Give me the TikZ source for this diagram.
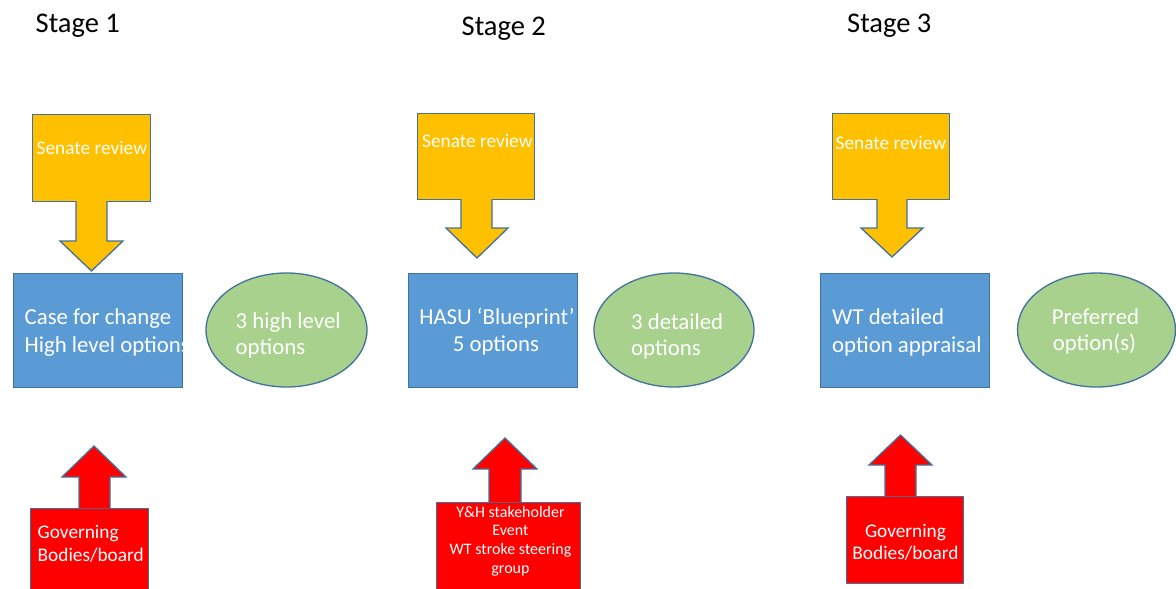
\documentclass[tikz,border=0pt]{standalone}
\usepackage{fontspec}
\setmainfont{Carlito}
\usetikzlibrary{shapes.geometric}
\definecolor{cyel}{HTML}{FFC000}
\definecolor{cblue}{HTML}{5B9BD5}
\definecolor{cgreen}{HTML}{A9D18E}
\definecolor{cred}{HTML}{FF0000}
\definecolor{cedge}{HTML}{41719C}
\begin{document}
\begin{tikzpicture}[x=1pt,y=-1pt,
  shp/.style={draw=cedge, line width=1.3pt},
  boxnode/.style={shp, inner sep=0pt, anchor=north west},
  ellnode/.style={shp, ellipse, fill=cgreen, inner sep=0pt},
  lblL/.style={text=white, inner sep=0pt, anchor=base west},
  lblC/.style={text=white, inner sep=0pt, anchor=base},
  stagelbl/.style={text=black, inner sep=0pt, anchor=base west, font=\fontsize{28.5}{34}\selectfont},
  fbig/.style={font=\fontsize{22.8}{27}\selectfont},
  fmid/.style={font=\fontsize{19.3}{23}\selectfont},
  fsmall/.style={font=\fontsize{16}{19}\selectfont}
]
\clip (0,0) rectangle (1176,589);
\fill[white] (0,0) rectangle (1176,589);

% stage titles
\node[stagelbl] (st1) at (35.5,32.5) {Stage 1};
\node[stagelbl] (st2) at (461.5,35.2) {Stage 2};
\node[stagelbl] (st3) at (847,32.5) {Stage 3};

% senate review boxes
\node[boxnode, fill=cyel, minimum width=118pt, minimum height=87pt] (sen1) at (32,114) {};
\node[boxnode, fill=cyel, minimum width=117pt, minimum height=86pt] (sen2) at (417,113) {};
\node[boxnode, fill=cyel, minimum width=117pt, minimum height=86pt] (sen3) at (832,113) {};

% main blue boxes
\node[boxnode, fill=cblue, minimum width=169pt, minimum height=114pt] (blue1) at (13,273) {};
\node[boxnode, fill=cblue, minimum width=169pt, minimum height=114pt] (blue2) at (408,273) {};
\node[boxnode, fill=cblue, minimum width=169pt, minimum height=114pt] (blue3) at (820,273) {};

% ellipses
\node[ellnode, minimum width=161pt, minimum height=114pt] (ell1) at (286.5,330) {};
\node[ellnode, minimum width=160pt, minimum height=114pt] (ell2) at (674,330) {};
\node[ellnode, minimum width=158pt, minimum height=114pt] (ell3) at (1096.5,330) {};

% red boxes
\node[boxnode, fill=cred, minimum width=118pt, minimum height=100pt] (red1) at (30,508) {};
\node[boxnode, fill=cred, minimum width=144pt, minimum height=100pt] (red2) at (436,502) {};
\node[boxnode, fill=cred, minimum width=117pt, minimum height=87pt] (red3) at (846,496) {};

% yellow block arrows (down)
\draw[shp, fill=cyel] (76,201) -- (76,241) -- (60,241) -- (91.5,271) -- (123,241) -- (107,241) -- (107,201);
\draw[shp, fill=cyel] (461,199) -- (461,228) -- (446,228) -- (477,258) -- (508,228) -- (492,228) -- (492,199);
\draw[shp, fill=cyel] (877,199) -- (877,228) -- (861,228) -- (892,257) -- (923,228) -- (907,228) -- (907,199);

% red block arrows (up)
\draw[shp, fill=cred] (79,508) -- (79,477) -- (62,477) -- (94,446) -- (126,477) -- (110,477) -- (110,508);
\draw[shp, fill=cred] (489,502) -- (489,469) -- (473,469) -- (505,438) -- (537,469) -- (521,469) -- (521,502);
\draw[shp, fill=cred] (885,496) -- (885,465) -- (869,465) -- (900.5,435) -- (932,465) -- (916,465) -- (916,496);

% senate labels
\node[lblL, fmid] (sen1t) at (36.5,154) {Senate review};
\node[lblL, fmid] (sen2t) at (422,147) {Senate review};
\node[lblL, fmid] (sen3t) at (835.5,149) {Senate review};

% blue labels
\node[lblL, fbig] (b1a) at (24.5,324) {Case for change};
\node[lblL, fbig] (b1b) at (24.5,352) {High level options};
\node[lblC, fbig] (b2a) at (497,324) {HASU ‘Blueprint’};
\node[lblC, fbig] (b2b) at (496,351) {5 options};
\node[lblL, fbig] (b3a) at (832,324) {WT detailed};
\node[lblL, fbig] (b3b) at (832,352) {option appraisal};

% ellipse labels
\node[lblL, fbig] (e1a) at (235.5,328) {3 high level};
\node[lblL, fbig] (e1b) at (235.5,354) {options};
\node[lblL, fbig] (e2a) at (631,329) {3 detailed};
\node[lblL, fbig] (e2b) at (631,355) {options};
\node[lblC, fbig] (e3a) at (1095.5,324) {Preferred};
\node[lblC, fbig] (e3b) at (1094.5,350) {option(s)};

% red labels
\node[lblL, fmid] (r1a) at (37.5,538) {Governing};
\node[lblL, fmid] (r1b) at (37.5,561) {Bodies/board};
\node[lblC, fsmall] (r2a) at (510.5,517) {Y\&H stakeholder};
\node[lblC, fsmall] (r2b) at (510.5,535) {Event};
\node[lblC, fsmall] (r2c) at (510.5,554) {WT stroke steering};
\node[lblC, fsmall] (r2d) at (510.5,573) {group};
\node[lblC, fmid] (r3a) at (905.5,537) {Governing};
\node[lblC, fmid] (r3b) at (905.5,559) {Bodies/board};
\end{tikzpicture}
\end{document}
